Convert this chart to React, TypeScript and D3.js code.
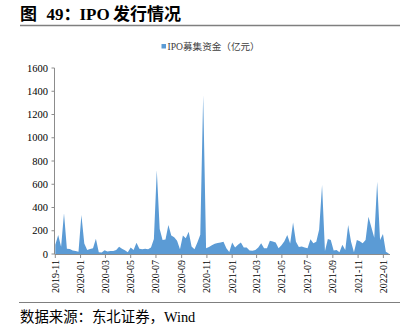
import React from "react";
import * as d3 from "d3";

const startDate = "2019-11-01";
const weekStepDays = 7;
const ipoValues: number[] = [
  80, 163, 63, 350, 45, 43, 30, 25, 20, 335,
  90, 35, 43, 50, 132, 15, 12, 32, 22, 25,
  25, 35, 63, 45, 32, 15, 55, 35, 97, 45,
  40, 45, 40, 55, 130, 720, 215, 120, 125, 250,
  160, 145, 115, 40, 160, 135, 192, 65, 40, 100,
  165, 1365, 49, 60, 75, 88, 95, 100, 106, 50,
  18, 100, 55, 80, 100, 55, 55, 30, 28, 35,
  55, 92, 50, 50, 115, 108, 100, 50, 75, 110,
  163, 90, 270, 106, 60, 65, 55, 50, 126, 92,
  106, 210, 593, 25, 130, 120, 30, 35, 15, 80,
  35, 250, 106, 15, 120, 110, 92, 120, 320, 230,
  140, 622, 120, 172, 20, 5,
];
const yTicks = [0, 200, 400, 600, 800, 1000, 1200, 1400, 1600];
const titleParts = ["图", "49：", "IPO", "发行情况"];
const legendText = "IPO募集资金（亿元）";
const sourceText = "数据来源：东北证券，Wind";

export default function App() {
  const W = 410, H = 336;
  const parse = d3.timeParse("%Y-%m-%d");
  const t0 = parse(startDate) as Date;
  const data = ipoValues.map((v, i) => ({ date: d3.timeDay.offset(t0, i * weekStepDays), v }));
  const x = d3.scaleTime()
    .domain([t0, parse("2022-01-17") as Date])
    .range([55.3, 390]);
  const y = d3.scaleLinear().domain([0, 1600]).range([254, 68]);
  const area = d3.area<{ date: Date; v: number }>()
    .x(d => x(d.date))
    .y0(y(0))
    .y1(d => y(d.v))
    .curve(d3.curveLinear);
  const xTicks = x.ticks(d3.timeMonth.every(2) as d3.TimeInterval);
  const fmt = d3.timeFormat("%Y-%m");
  const serif = "'Times New Roman', 'Liberation Serif', 'Noto Sans CJK SC', serif";
  const axisColor = "#8c8c8c";
  const titleX = [20, 46.5, 79.5, 113];
  return (
    <svg width={W} height={H} style={{ position: "absolute", left: 0, top: 0, background: "#fff" }}>
      <text y={20} fontFamily={serif} fontWeight="bold" fontSize={17} fill="#000">
        {titleParts.map((p, i) => (
          <tspan key={i} x={titleX[i]}>{p}</tspan>
        ))}
      </text>
      <line x1={20} x2={400} y1={25.5} y2={25.5} stroke="#7f7f7f" strokeWidth={1.5} />
      <rect x={161.5} y={44} width={4.5} height={4.5} fill="#5B9BD5" />
      <text x={167.5} y={49.5} fontFamily={serif} fontSize={9.6} fill="#404040">{legendText}</text>
      <path d={area(data) || ""} fill="#5B9BD5" />
      <line x1={54.5} x2={54.5} y1={68} y2={254} stroke={axisColor} strokeWidth={1} />
      {yTicks.map(t => (
        <g key={t}>
          <line x1={51.5} x2={54.5} y1={y(t)} y2={y(t)} stroke={axisColor} />
          <text x={48} y={y(t)} dy="0.35em" textAnchor="end" fontFamily={serif} fontSize={10.5} fill="#000">{t}</text>
        </g>
      ))}
      <line x1={54.5} x2={390} y1={254.5} y2={254.5} stroke={axisColor} strokeWidth={1} />
      {xTicks.map(t => (
        <g key={+t}>
          <line x1={x(t)} x2={x(t)} y1={254.5} y2={258} stroke={axisColor} />
          <text transform={`translate(${x(t)},260) rotate(-90)`} dy="0.35em" textAnchor="end" fontFamily={serif} fontSize={10} fill="#000">{fmt(t)}</text>
        </g>
      ))}
      <line x1={19} x2={400} y1={302.5} y2={302.5} stroke="#7f7f7f" strokeWidth={1} />
      <text x={20} y={322} fontFamily={serif} fontSize={14.4} fill="#000">{sourceText}</text>
    </svg>
  );
}
